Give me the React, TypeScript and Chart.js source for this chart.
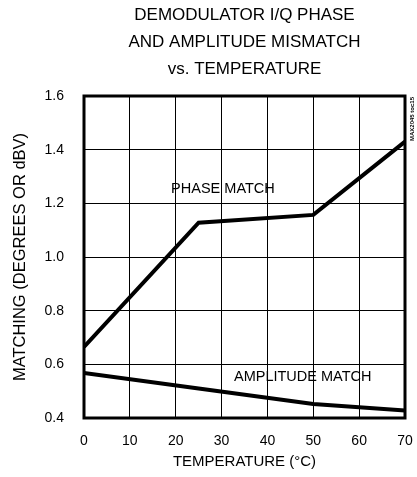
import React, { useEffect, useRef } from "react";
import { Chart, registerables } from "chart.js";

Chart.register(...registerables);

const titleLines = ["DEMODULATOR I/Q PHASE", "AND AMPLITUDE MISMATCH", "vs. TEMPERATURE"];
const xTitle = "TEMPERATURE (°C)";
const yTitle = "MATCHING (DEGREES OR dBV)";
const tocLabel = "MAX2045 toc15";

const phaseTemps = [0, 25, 50, 70];
const phaseValues = [0.665, 1.128, 1.157, 1.43];
const ampTemps = [0, 25, 50, 70];
const ampValues = [0.568, 0.51, 0.452, 0.428];

const seriesLabels = [
  { text: "PHASE MATCH", x: 30.3, y: 1.253 },
  { text: "AMPLITUDE MATCH", x: 47.7, y: 0.553 },
];

const FONT = "'Liberation Sans', Arial, sans-serif";

const framePlugin = {
  id: "frameAndLabels",
  afterDatasetsDraw(chart: any) {
    const { ctx, chartArea, scales } = chart;
    ctx.save();
    ctx.strokeStyle = "#000";
    ctx.lineWidth = 3;
    ctx.strokeRect(chartArea.left, chartArea.top, chartArea.right - chartArea.left, chartArea.bottom - chartArea.top);
    ctx.fillStyle = "#000";
    ctx.font = `14.5px ${FONT}`;
    ctx.textAlign = "center";
    ctx.textBaseline = "middle";
    for (const l of seriesLabels) {
      ctx.fillText(l.text, scales.x.getPixelForValue(l.x), scales.y.getPixelForValue(l.y));
    }
    ctx.translate(chartArea.right + 7, chartArea.top + 23);
    ctx.rotate(-Math.PI / 2);
    ctx.font = `bold 6px ${FONT}`;
    ctx.fillText(tocLabel, 0, 0);
    ctx.restore();
  },
};

export default function App() {
  const ref = useRef<HTMLCanvasElement>(null);
  useEffect(() => {
    document.body.style.margin = "0";
    const chart = new Chart(ref.current!, {
      type: "scatter",
      data: {
        datasets: [
          {
            data: phaseTemps.map((t, i) => ({ x: t, y: phaseValues[i] })),
            showLine: true,
            borderColor: "#000",
            borderWidth: 4,
            pointRadius: 0,
          },
          {
            data: ampTemps.map((t, i) => ({ x: t, y: ampValues[i] })),
            showLine: true,
            borderColor: "#000",
            borderWidth: 4,
            pointRadius: 0,
          },
        ],
      },
      options: {
        animation: false,
        responsive: false,
        layout: { padding: 0 },
        plugins: {
          legend: { display: false },
          tooltip: { enabled: false },
          title: {
            display: true,
            text: titleLines,
            fullSize: false,
            color: "#000",
            font: { family: FONT, size: 17, weight: "normal", lineHeight: 27 / 17 },
            padding: { top: 2, bottom: 13 },
          },
        },
        scales: {
          x: {
            type: "linear",
            min: 0,
            max: 70,
            ticks: { stepSize: 10, color: "#000", font: { family: FONT, size: 14 }, padding: 15 },
            grid: { color: "#000", lineWidth: 1, drawTicks: false },
            border: { display: false },
            title: { display: true, text: xTitle, color: "#000", font: { family: FONT, size: 15 }, padding: 6 },
            afterFit: (s: any) => {
              s.height = 59;
              s.paddingRight = 12;
              s.paddingLeft = 0;
            },
          },
          y: {
            type: "linear",
            min: 0.4,
            max: 1.6,
            ticks: {
              stepSize: 0.2,
              color: "#000",
              font: { family: FONT, size: 14 },
              padding: 20,
              callback: (v: any) => Number(v).toFixed(1),
            },
            grid: { color: "#000", lineWidth: 1, drawTicks: false },
            border: { display: false },
            title: { display: true, text: yTitle, color: "#000", font: { family: FONT, size: 16.5 }, padding: 11 },
            afterFit: (s: any) => {
              s.width = 84;
            },
          },
        },
      },
      plugins: [framePlugin],
    } as any);
    return () => chart.destroy();
  }, []);
  return (
    <div style={{ width: 417, height: 477 }}>
      <canvas ref={ref} width={417} height={477} style={{ display: "block" }} />
    </div>
  );
}
